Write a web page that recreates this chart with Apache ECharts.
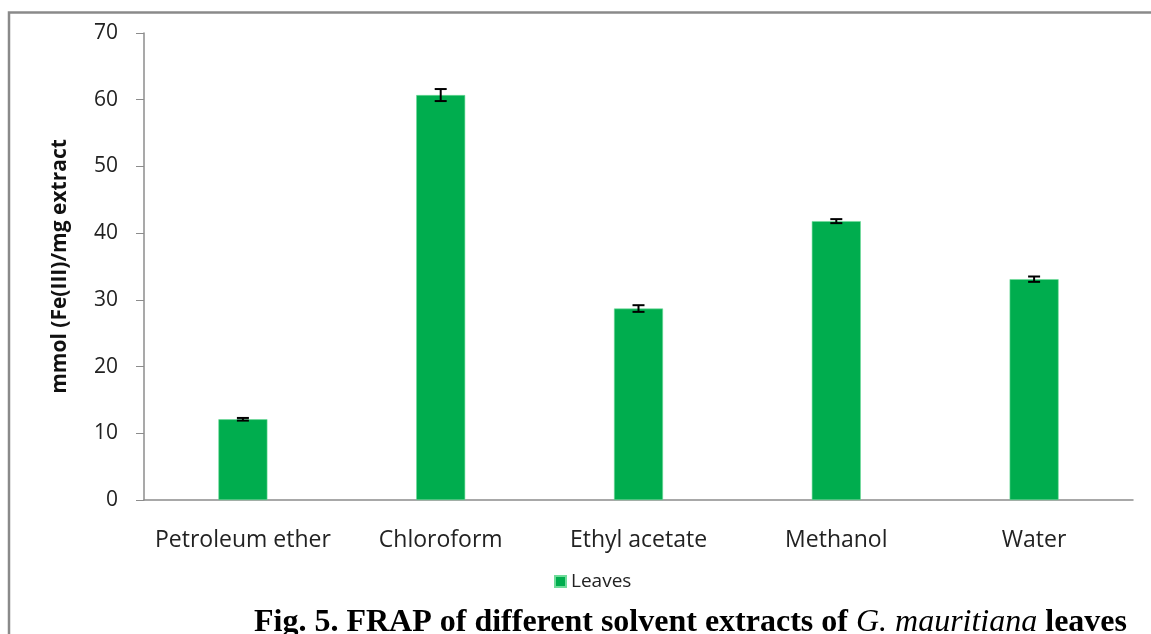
<!DOCTYPE html>
<html>
<head>
<meta charset="utf-8">
<script src="https://cdn.jsdelivr.net/npm/echarts@6/dist/echarts.min.js"></script>
<style>
  html, body { margin: 0; padding: 0; background: #fff; }
  #chart { width: 1151px; height: 634px; }
</style>
</head>
<body>
<div id="chart"></div>
<script>
const categories = ['Petroleum ether', 'Chloroform', 'Ethyl acetate', 'Methanol', 'Water']
const leaves = [12.1, 60.7, 28.7, 41.8, 33.1]
const leavesErr = [0.2, 0.9, 0.5, 0.3, 0.4]
const yTicks = [0, 10, 20, 30, 40, 50, 60, 70]

const chart = echarts.init(document.getElementById('chart'))

const errData = leaves.map((v, i) => [i, v - leavesErr[i], v + leavesErr[i]])

const option = {
  animation: false,
  textStyle: { fontFamily: 'Open Sans' },
  grid: { left: 144, right: 18, top: 33, bottom: 134 },
  legend: {
    data: ['Leaves'],
    left: 549, top: 567,
    itemWidth: 11, itemHeight: 11, icon: 'rect', itemGap: 6,
    textStyle: { fontSize: 19, color: '#222', fontFamily: 'Open Sans' }
  },
  xAxis: {
    type: 'category',
    data: categories,
    axisLine: { lineStyle: { color: '#8c8c8c', width: 1.5 } },
    axisTick: { show: false },
    axisLabel: { fontSize: 23, color: '#222', margin: 29, interval: 0 }
  },
  yAxis: {
    type: 'value',
    min: yTicks[0], max: yTicks[yTicks.length - 1], interval: 10,
    name: 'mmol (Fe(III)/mg extract',
    nameLocation: 'middle', nameGap: 73,
    nameTextStyle: { fontSize: 21, fontWeight: 'bold', color: '#111' },
    axisLine: { show: true, lineStyle: { color: '#8c8c8c', width: 1.5 } },
    axisTick: { show: true, inside: false, length: 8, lineStyle: { color: '#8c8c8c' } },
    splitLine: { show: false },
    axisLabel: { fontSize: 21, color: '#222', margin: 26 }
  },
  graphic: [
    {
      type: 'polyline',
      shape: { points: [[9, 634], [9, 12.5], [1151, 12.5]] },
      style: { stroke: '#8a8a8a', lineWidth: 2.5, fill: null }
    },
    {
      type: 'text',
      right: 24, top: 607,
      style: {
        text: '{b|Fig. 5. FRAP of different solvent extracts of }{i|G. mauritiana}{b| leaves}',
        rich: {
          b: { fontFamily: 'Liberation Serif', fontWeight: 'bold', fontSize: 32, fill: '#000' },
          i: { fontFamily: 'Liberation Serif', fontStyle: 'italic', fontSize: 32, fill: '#000' }
        }
      }
    }
  ],
  series: [
    {
      name: 'Leaves',
      type: 'bar',
      data: leaves,
      barWidth: 49,
      itemStyle: { color: '#00ad4e', borderColor: '#6fdc9a', borderWidth: 0.6 }
    },
    {
      type: 'custom',
      data: errData,
      z: 10,
      renderItem: function (params, api) {
        const x = api.coord([api.value(0), 0])[0]
        const lo = api.coord([api.value(0), api.value(1)])[1]
        const hi = api.coord([api.value(0), api.value(2)])[1]
        const cap = 6
        const st = { stroke: '#000', lineWidth: 2 }
        return {
          type: 'group',
          children: [
            { type: 'line', shape: { x1: x, y1: lo, x2: x, y2: hi }, style: st },
            { type: 'line', shape: { x1: x - cap, y1: lo, x2: x + cap, y2: lo }, style: st },
            { type: 'line', shape: { x1: x - cap, y1: hi, x2: x + cap, y2: hi }, style: st }
          ]
        }
      }
    }
  ]
}

chart.setOption(option)
</script>
</body>
</html>
